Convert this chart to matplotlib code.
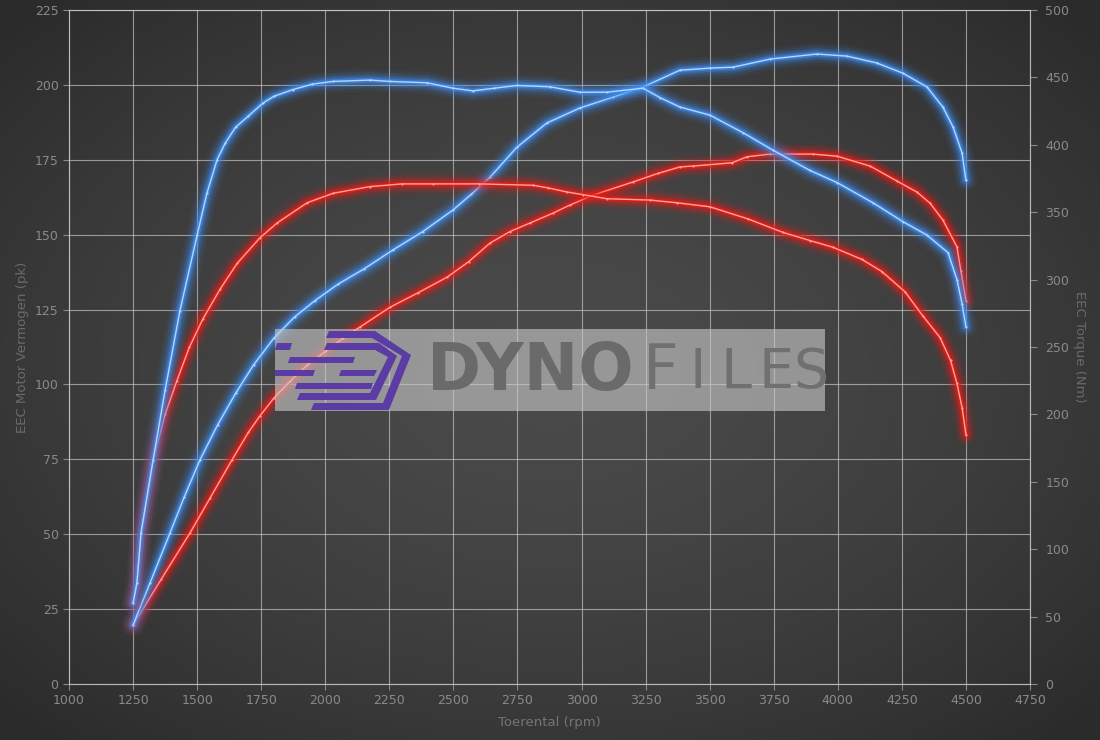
import matplotlib.pyplot as plt
import numpy as np
from matplotlib.patches import Polygon, Rectangle

# tuned (blue) and stock (red) power, left axis in pk
tuned_power_rpm = [1250, 1316, 1394, 1450, 1511, 1580, 1650, 1720, 1800, 1880, 1960, 2050, 2150, 2264,
                   2380, 2498, 2570, 2643, 2748, 2865, 2994, 3123, 3240, 3384, 3501, 3591, 3735, 3919,
                   4036, 4153, 4254, 4348, 4410, 4450, 4485, 4500]
tuned_power = [19.7, 33.7, 50.4, 62.5, 74.8, 86.5, 97.0, 106.5, 115.5, 122.5, 128.0, 133.5, 138.5, 144.9,
               151.0, 158.2, 163.5, 169.2, 179.2, 187.3, 192.3, 195.9, 199.3, 204.9, 205.6, 205.9, 208.6, 210.3,
               209.6, 207.3, 203.9, 199.3, 192.6, 185.9, 177.2, 168.2]

stock_power_rpm = [1250, 1360, 1472, 1550, 1636, 1700, 1745, 1800, 1862, 1930, 2000, 2070, 2136, 2253,
                   2360, 2475, 2560, 2643, 2720, 2799, 2889, 2955, 3045, 3201, 3300, 3384, 3435, 3587,
                   3646, 3735, 3903, 3997, 4126, 4231, 4309, 4360, 4410, 4465, 4480, 4500]
stock_power = [19.7, 35.0, 50.4, 62.0, 74.8, 84.0, 89.5, 95.5, 101.0, 106.5, 111.0, 115.5, 119.2, 125.8,
               130.5, 135.8, 141.0, 147.2, 151.0, 153.9, 157.2, 159.9, 163.2, 167.6, 170.5, 172.6, 172.9, 174.0,
               176.0, 176.9, 176.9, 176.2, 172.9, 167.9, 164.2, 160.5, 154.9, 145.9, 138.0, 128.0]

# torque, right axis in Nm
tuned_torque_rpm = [1250, 1265, 1281, 1328, 1375, 1433, 1500, 1538, 1578, 1609, 1650, 1698, 1757, 1800,
                    1874, 1950, 2030, 2175, 2253, 2397, 2498, 2576, 2660, 2748, 2877, 2994, 3099, 3240,
                    3306, 3384, 3501, 3630, 3747, 3891, 3997, 4137, 4254, 4348, 4430, 4465, 4485, 4500]
tuned_torque = [60, 75, 112, 166, 218, 277, 333, 364, 389, 401, 413, 421, 431, 436,
                441, 445, 447, 448, 447, 446, 442, 440, 442, 444, 443, 439, 439, 442,
                435, 428, 422, 409, 396, 381, 372, 357, 343, 333, 320, 300, 282, 265]

stock_torque_rpm = [1250, 1265, 1281, 1328, 1375, 1421, 1470, 1523, 1590, 1656, 1745, 1812, 1929, 2030,
                    2175, 2300, 2420, 2600, 2811, 2870, 2943, 3006, 3099, 3267, 3372, 3501, 3650, 3786,
                    3891, 3981, 4094, 4172, 4262, 4332, 4399, 4440, 4465, 4485, 4500]
stock_torque = [60, 75, 112, 166, 200, 225, 250, 271, 293, 312, 331, 342, 357, 364,
                369, 371, 371, 371, 370, 368, 365, 363, 360, 359, 357, 354, 345, 335,
                329, 324, 315, 306, 291, 273, 257, 240, 223, 205, 185]

W, H = 1100, 740
fig = plt.figure(figsize=(W / 100, H / 100), dpi=100)

# dark radial background
bg = fig.add_axes([0, 0, 1, 1], zorder=-10)
yy, xx = np.mgrid[0:H, 0:W]
r = np.sqrt(((xx - W * 0.5) / (W * 0.6)) ** 2 + ((yy - H * 0.5) / (H * 0.6)) ** 2)
shade = np.clip(0.29 - 0.1 * r ** 1.6, 0.17, 0.3)
bg.imshow(np.dstack([shade, shade, shade]), aspect='auto', extent=[0, 1, 0, 1])
bg.axis('off')

ax = fig.add_axes([69 / W, 1 - 684 / H, (1030 - 69) / W, (684 - 10) / H])
ax.patch.set_alpha(0)
ax2 = ax.twinx()

grid_c = '#c4c4c4'
label_c = '#8a8a8a'

ax.set_xlim(1000, 4750)
ax.set_ylim(0, 225)
ax2.set_ylim(0, 500)
ax.set_xticks(np.arange(1000, 4751, 250))
ax.set_yticks(np.arange(0, 226, 25))
ax2.set_yticks(np.arange(0, 501, 50))
ax.grid(True, color=grid_c, lw=0.8, alpha=0.7)
for a in (ax, ax2):
    for s in a.spines.values():
        s.set_color(grid_c)
        s.set_alpha(0.7)
        s.set_linewidth(0.8)
ax.tick_params(colors=label_c, labelsize=9, length=4, width=0.8)
ax2.tick_params(colors=label_c, labelsize=9, length=5, width=0.8, pad=6)
for t in ax.get_xticklabels() + ax.get_yticklabels() + ax2.get_yticklabels():
    t.set_color(label_c)

ax.set_xlabel('Toerental (rpm)', color='#747474', fontsize=9.5, labelpad=6)
ax.set_ylabel('EEC Motor Vermogen (pk)', color='#6a6a6a', fontsize=9.5, labelpad=4)
ax2.set_ylabel('EEC Torque (Nm)', color='#6a6a6a', fontsize=9.5, rotation=270, labelpad=12)


def glow(axis, x, y, color, core):
    for lw, a in [(16, 0.07), (12, 0.12), (8.5, 0.2), (5.5, 0.35), (3.2, 0.6)]:
        axis.plot(x, y, color=color, lw=lw, alpha=a, solid_capstyle='round', solid_joinstyle='round')
    axis.plot(x, y, color=core, lw=1.0, marker='o', ms=1.5, mew=0, solid_joinstyle='round')


blue, blue_core = '#3d8cf0', '#b4d7fc'
red, red_core = '#ee1a16', '#ffa396'

glow(ax, stock_power_rpm, stock_power, red, red_core)
glow(ax2, stock_torque_rpm, stock_torque, red, red_core)
glow(ax, tuned_power_rpm, tuned_power, blue, blue_core)
glow(ax2, tuned_torque_rpm, tuned_torque, blue, blue_core)

# watermark banner
wm = fig.add_axes([275 / W, 1 - 411 / H, 550 / W, 82 / H], zorder=5)
wm.set_xlim(0, 550)
wm.set_ylim(82, 0)
wm.axis('off')
wm.add_patch(Rectangle((0, 0), 550, 82, facecolor='#c8c8c8', alpha=0.62, lw=0))

purple = '#5a3ca4'
logo = [
    [(54, 2), (100, 2), (136, 26), (114, 81), (36, 81), (39, 74), (108, 74), (127, 27), (97, 9), (51, 9)],
    [(52, 14), (104, 14), (122, 27), (101, 71), (22, 71), (25, 64), (95, 64), (113, 28), (100, 21), (49, 21)],
    [(2, 14), (17, 14), (15, 21), (0, 21)],
    [(15, 28), (80, 28), (78, 34), (13, 34)],
    [(0, 41), (40, 41), (38, 47), (0, 47)],
    [(66, 41), (102, 41), (99, 47), (64, 47)],
    [(22, 54), (98, 54), (96, 60), (20, 60)],
]
for pts in logo:
    wm.add_patch(Polygon(pts, closed=True, facecolor=purple, lw=0))

wm.text(152, 43, 'DYNO', fontsize=47, fontweight='bold', color='#6a6a6a',
        ha='left', va='center', family='DejaVu Sans')
for ch, cx, fs in [('F', 386, 45), ('I', 423, 40), ('L', 461, 40), ('E', 501, 40), ('S', 536, 40)]:
    wm.text(cx, 43 + (45 - fs) * 0.25, ch, fontsize=fs, color='#707070', ha='center', va='center',
            family='DejaVu Sans')

fig.savefig('out.png', dpi=100)
